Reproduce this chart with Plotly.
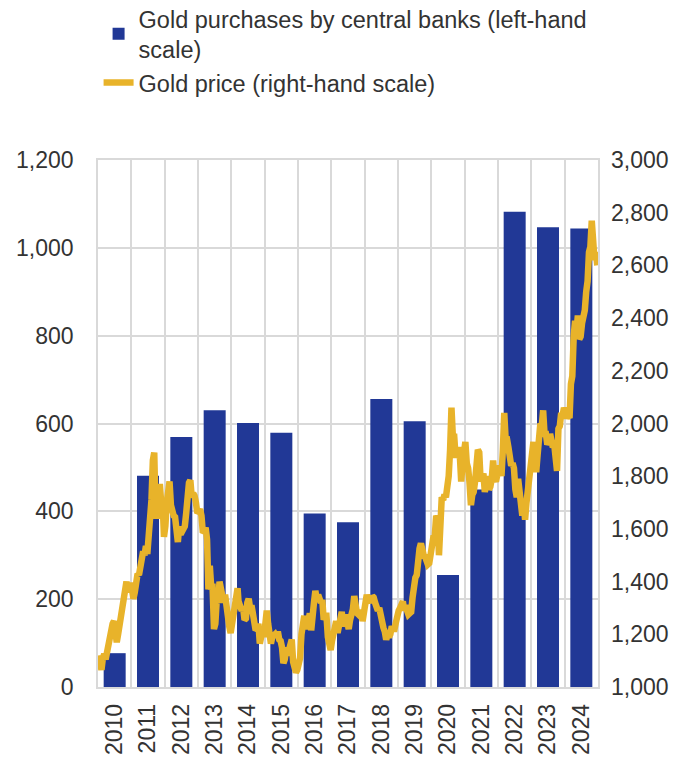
import plotly.graph_objects as go

years = ["2010", "2011", "2012", "2013", "2014", "2015", "2016", "2017",
         "2018", "2019", "2020", "2021", "2022", "2023", "2024"]
purchases = [77, 481, 569, 630, 601, 579, 395, 375, 656, 605, 255, 450, 1082, 1047, 1044]

# Gold price, two readings per month (USD per ounce)
price_2010 = [1120, 1090, 1065, 1110, 1125, 1105, 1135, 1165, 1200, 1220, 1240, 1250,
              1210, 1170, 1200, 1235, 1255, 1300, 1345, 1345, 1400, 1360, 1395, 1395]
price_2011 = [1370, 1335, 1360, 1400, 1430, 1425, 1460, 1505, 1515, 1500, 1535, 1505,
              1565, 1620, 1710, 1860, 1890, 1650, 1650, 1720, 1770, 1700, 1710, 1570]
price_2012 = [1610, 1700, 1740, 1780, 1690, 1660, 1650, 1645, 1590, 1550, 1610, 1580,
              1590, 1610, 1610, 1660, 1740, 1775, 1785, 1720, 1735, 1725, 1700, 1660]
price_2013 = [1665, 1675, 1650, 1585, 1590, 1605, 1560, 1370, 1460, 1380, 1380, 1220,
              1240, 1330, 1320, 1400, 1370, 1320, 1320, 1350, 1290, 1245, 1230, 1205]
price_2014 = [1240, 1265, 1285, 1335, 1375, 1300, 1305, 1290, 1300, 1255, 1260, 1320,
              1335, 1300, 1310, 1280, 1245, 1215, 1220, 1240, 1165, 1190, 1215, 1190]
price_2015 = [1225, 1290, 1240, 1205, 1165, 1190, 1200, 1200, 1190, 1210, 1180, 1175,
              1150, 1090, 1105, 1150, 1120, 1140, 1160, 1180, 1095, 1065, 1055, 1065]
price_2016 = [1085, 1110, 1200, 1235, 1270, 1230, 1230, 1250, 1280, 1215, 1250, 1320,
              1365, 1330, 1350, 1335, 1320, 1330, 1255, 1270, 1270, 1190, 1160, 1140]
price_2017 = [1175, 1200, 1225, 1250, 1205, 1245, 1260, 1285, 1230, 1260, 1275, 1245,
              1220, 1255, 1275, 1295, 1345, 1290, 1280, 1275, 1280, 1290, 1250, 1295]
price_2018 = [1320, 1350, 1330, 1330, 1320, 1345, 1340, 1320, 1310, 1290, 1300, 1260,
              1250, 1225, 1210, 1180, 1200, 1190, 1200, 1230, 1220, 1220, 1245, 1280]
price_2019 = [1290, 1300, 1315, 1325, 1290, 1310, 1290, 1275, 1280, 1285, 1340, 1405,
              1415, 1425, 1500, 1525, 1545, 1510, 1500, 1495, 1470, 1465, 1470, 1515]
price_2020 = [1560, 1570, 1575, 1650, 1640, 1500, 1620, 1720, 1710, 1730, 1720, 1765,
              1800, 1900, 2060, 1950, 1950, 1870, 1900, 1910, 1880, 1780, 1850, 1880]
price_2021 = [1930, 1850, 1830, 1775, 1690, 1730, 1740, 1780, 1840, 1900, 1890, 1780,
              1800, 1810, 1740, 1790, 1800, 1750, 1760, 1790, 1860, 1790, 1780, 1805]
price_2022 = [1810, 1840, 1800, 1900, 2040, 1940, 1940, 1910, 1850, 1840, 1850, 1830,
              1750, 1720, 1790, 1750, 1710, 1650, 1700, 1635, 1700, 1750, 1790, 1810]
price_2023 = [1860, 1930, 1870, 1815, 1880, 1980, 2000, 1990, 2050, 1960, 1960, 1920,
              1930, 1960, 1920, 1910, 1920, 1870, 1820, 1980, 1990, 2040, 2030, 2060]
price_2024 = [2040, 2020, 2030, 2020, 2150, 2180, 2330, 2390, 2350, 2410, 2320, 2330,
              2380, 2410, 2430, 2500, 2540, 2650, 2670, 2770, 2650, 2620, 2650, 2600]

prices = (price_2010 + price_2011 + price_2012 + price_2013 + price_2014 + price_2015 +
          price_2016 + price_2017 + price_2018 + price_2019 + price_2020 + price_2021 +
          price_2022 + price_2023 + price_2024)
per_year = 24
price_x = [i / per_year - 0.5 + 0.5 / per_year for i in range(len(prices))]

FONT = "Liberation Sans, Arial, sans-serif"
TXT = "#333333"
GRID = "#d9d9d9"
BLUE = "#213896"
GOLD = "#E8B32A"

fig = go.Figure()
fig.add_trace(go.Bar(
    x=list(range(len(years))), y=purchases, width=0.66,
    marker=dict(color=BLUE, line=dict(width=0)),
    name="Gold purchases by central banks (left-hand<br>scale)",
))
fig.add_trace(go.Scatter(
    x=price_x, y=prices, mode="lines", yaxis="y2",
    line=dict(color=GOLD, width=6.5),
    name="Gold price (right-hand scale)",
))

fig.update_layout(
    width=671, height=749,
    margin=dict(l=90, r=81, t=152, b=70, autoexpand=False),
    paper_bgcolor="white", plot_bgcolor="white",
    font=dict(family=FONT, size=23, color=TXT),
    showlegend=True,
    legend=dict(xref="container", yref="paper",
                x=0.135, y=1.31, xanchor="left", yanchor="top",
                font=dict(size=23.5, color=TXT), tracegroupgap=0,
                itemwidth=30,
                bgcolor="rgba(0,0,0,0)", traceorder="normal"),
    xaxis=dict(
        range=[-0.5, 14.5], automargin=False,
        tickmode="array", tickvals=list(range(len(years))), ticktext=years,
        tickangle=-90, showgrid=False, ticks="", ticklabelstandoff=6,
        showline=True, linecolor=GRID, linewidth=1.5, mirror=True,
        minor=dict(tick0=-0.5, dtick=1, showgrid=True, gridcolor=GRID, gridwidth=1.5, ticks=""),
        zeroline=False,
    ),
    yaxis=dict(
        range=[0, 1200], dtick=200, tickformat=",d", automargin=False,
        showgrid=True, gridcolor=GRID, gridwidth=1.5, zeroline=False,
        ticks="", ticklabelstandoff=18,
        showline=True, linecolor=GRID, linewidth=1.5, mirror=True,
    ),
    yaxis2=dict(
        range=[1000, 3000], dtick=200, tickformat=",d", automargin=False,
        overlaying="y", side="right", showgrid=False, zeroline=False,
        ticks="", ticklabelstandoff=12,
    ),
)

fig.write_html("out.html")
